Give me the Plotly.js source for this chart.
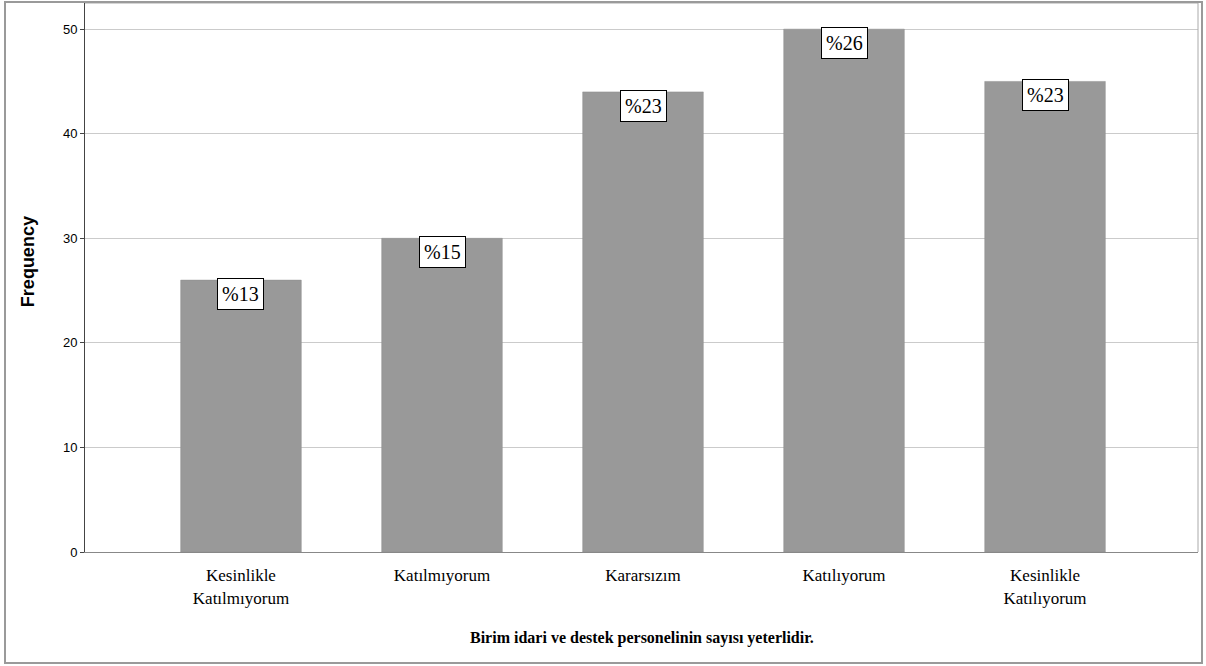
<!DOCTYPE html>
<html>
<head>
<meta charset="utf-8">
<script src="https://cdn.plot.ly/plotly-3.0.1.min.js"></script>
<style>html,body{margin:0;padding:0;background:#fff;}#chart{width:1206px;height:666px;}</style>
</head>
<body>
<div id="chart"></div>
<script>
var categories = ["Kesinlikle<br>Katılmıyorum", "Katılmıyorum", "Kararsızım", "Katılıyorum", "Kesinlikle<br>Katılıyorum"];
var frequencies = [26, 30, 44, 50, 45];
var percentLabels = ["%13", "%15", "%23", "%26", "%23"];
var yTicks = [0, 10, 20, 30, 40, 50];

var SERIF = "Liberation Serif";
var SANS = "Liberation Sans";

var trace = {
  type: "bar",
  x: categories,
  y: frequencies,
  marker: {color: "#999999", line: {color: "#8f8f8f", width: 0.5}},
  hoverinfo: "none"
};

var annotations = categories.map(function(c, i) {
  return {
    x: c, y: frequencies[i], xref: "x", yref: "y",
    text: percentLabels[i], showarrow: false,
    yanchor: "top", yshift: 2,
    font: {family: SERIF, size: 20, color: "#000"},
    bgcolor: "#ffffff", bordercolor: "#000000", borderwidth: 1, borderpad: 4
  };
});

annotations.push({
  text: "Birim idari ve destek personelinin sayısı yeterlidir.",
  xref: "paper", yref: "paper", x: 0.5, y: -0.157, yanchor: "middle",
  showarrow: false,
  font: {family: SERIF, size: 16, color: "#000", weight: "bold"}
});

annotations.push({
  text: "Frequency",
  xref: "paper", yref: "paper", x: -57/1113, y: 0.528,
  xanchor: "center", yanchor: "middle", textangle: -90,
  showarrow: false,
  font: {family: SANS, size: 18, color: "#000", weight: "bold"}
});

var layout = {
  width: 1206, height: 666,
  margin: {l: 85, r: 8, t: 3, b: 114},
  paper_bgcolor: "#ffffff", plot_bgcolor: "#ffffff",
  font: {family: SERIF, color: "#000"},
  bargap: 0.4,
  showlegend: false,
  xaxis: {
    type: "category",
    range: [-0.776, 4.761],
    showgrid: false, zeroline: false,
    showline: true, linecolor: "#888888", linewidth: 1,
    ticks: "",
    ticklabelstandoff: 8,
    tickfont: {family: SERIF, size: 17, color: "#000"},
    fixedrange: true
  },
  yaxis: {
    range: [0, 52.5],
    tickvals: yTicks,
    showgrid: true, gridcolor: "#cbcbcb", gridwidth: 1,
    zeroline: false,
    showline: true, linecolor: "#444444", linewidth: 1,
    ticks: "outside", ticklen: 4, tickcolor: "#444444",
    tickfont: {family: SANS, size: 13, color: "#000"},
    fixedrange: true
  },
  annotations: annotations,
  shapes: [
    {type: "line", xref: "paper", yref: "paper", x0: 0, x1: 1, y0: 1, y1: 1, line: {color: "#aaaaaa", width: 1}},
    {type: "line", xref: "paper", yref: "paper", x0: 1, x1: 1, y0: 0, y1: 1, line: {color: "#aaaaaa", width: 1}},
    {type: "rect", xref: "paper", yref: "paper",
     x0: -80/1113, x1: 1 + 4/1113, y0: -111/549, y1: 1 + 1/549,
     line: {color: "#9a9a9a", width: 2}, fillcolor: "rgba(0,0,0,0)"}
  ]
};

Plotly.newPlot("chart", [trace], layout, {displayModeBar: false, staticPlot: true});
</script>
</body>
</html>
